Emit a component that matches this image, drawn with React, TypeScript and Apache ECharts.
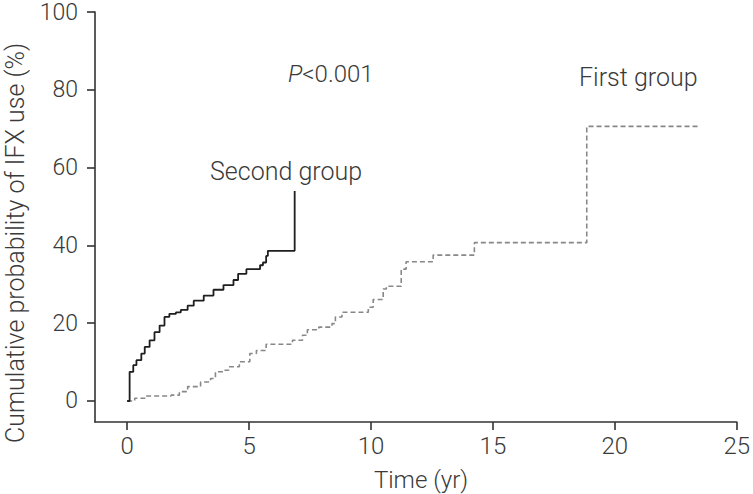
import React, { useEffect, useRef } from "react";
import * as echarts from "echarts";

const xTicks = [0, 5, 10, 15, 20, 25];
const yTicks = [0, 20, 40, 60, 80, 100];

// Second group (solid): [time (yr), cumulative probability (%)]
const secondGroup: [number, number][] = [
  [0, 0], [0.1, 7.5], [0.25, 9.2], [0.38, 10.5], [0.58, 12.2], [0.72, 13.9],
  [0.92, 15.6], [1.12, 17.7], [1.33, 19.4], [1.53, 21.6], [1.73, 22.4],
  [2.0, 22.8], [2.2, 23.4], [2.48, 24.5], [2.73, 25.8], [3.14, 27.1],
  [3.54, 28.6], [3.95, 29.8], [4.36, 31.1], [4.55, 32.7], [4.89, 33.9],
  [5.45, 34.9], [5.57, 35.6], [5.7, 37.3], [5.77, 38.6], [6.87, 54],
];

// First group (dashed)
const firstGroup: [number, number][] = [
  [0, 0], [0.31, 0.7], [0.72, 1.3], [1.8, 1.5], [2.14, 2.4], [2.48, 3.7],
  [3.01, 4.9], [3.42, 5.8], [3.62, 7.5], [3.96, 7.9], [4.16, 8.8],
  [4.6, 10.1], [5.03, 12.2], [5.3, 13.0], [5.7, 14.6], [6.78, 15.6],
  [7.19, 16.9], [7.39, 18.3], [7.86, 19.0], [8.4, 19.9], [8.54, 21.6],
  [8.81, 22.8], [9.89, 24.1], [10.09, 26.1], [10.5, 28.8], [10.63, 29.5],
  [11.24, 33.9], [11.44, 35.8], [12.55, 37.5], [14.24, 40.7],
  [18.85, 70.6], [23.5, 70.6],
];

const FONT = "Roboto";
const TXT = "#3a3a3a";
const AX = "#333333";

export default function App() {
  const ref = useRef<HTMLDivElement>(null);
  useEffect(() => {
    if (!ref.current) return;
    const chart = echarts.init(ref.current, null, { renderer: "svg" });
    chart.setOption({
      animation: false,
      backgroundColor: "#ffffff",
      grid: { left: 95, right: 8, top: 12, bottom: 72 },
      xAxis: {
        type: "value",
        min: -1.32,
        max: 25,
        splitLine: { show: false },
        axisLine: { show: true, onZero: false, lineStyle: { color: AX, width: 1.6 } },
        axisTick: { show: true, length: 8, customValues: xTicks, lineStyle: { color: AX, width: 1.6 } },
        axisLabel: {
          customValues: xTicks,
          margin: 15,
          color: TXT,
          fontFamily: FONT,
          fontWeight: 300,
          fontSize: 24,
          lineHeight: 18,
        },
      },
      yAxis: {
        type: "value",
        min: -5.4,
        max: 100,
        splitLine: { show: false },
        axisLine: { show: true, onZero: false, lineStyle: { color: AX, width: 1.6 } },
        axisTick: { show: true, length: 8, customValues: yTicks, lineStyle: { color: AX, width: 1.6 } },
        axisLabel: {
          customValues: yTicks,
          margin: 17,
          color: TXT,
          fontFamily: FONT,
          fontWeight: 300,
          fontSize: 23,
          lineHeight: 18,
        },
      },
      series: [
        {
          name: "First group",
          type: "line",
          step: "end",
          data: firstGroup,
          showSymbol: false,
          symbol: "none",
          lineStyle: { color: "#888888", width: 1.6, type: [5, 3] },
        },
        {
          name: "Second group",
          type: "line",
          step: "end",
          data: secondGroup,
          showSymbol: false,
          symbol: "none",
          lineStyle: { color: "#1e1e1e", width: 1.8 },
        },
      ],
      graphic: [
        {
          type: "text",
          x: 15,
          y: 243,
          rotation: Math.PI / 2,
          style: {
            text: "Cumulative probability of IFX use (%)",
            fill: TXT,
            font: `300 25px ${FONT}`,
            lineHeight: 24,
            align: "center",
            verticalAlign: "middle",
          },
        },
        {
          type: "text",
          x: 421,
          y: 480,
          style: {
            text: "Time (yr)",
            fill: TXT,
            font: `300 24px ${FONT}`,
            align: "center",
            verticalAlign: "middle",
          },
        },
        {
          type: "text",
          x: 288,
          y: 74,
          style: {
            text: "{i|P}<0.001",
            fill: TXT,
            font: `300 24px ${FONT}`,
            align: "left",
            verticalAlign: "middle",
            rich: {
              i: { fontStyle: "italic", fontFamily: FONT, fontWeight: 300, fontSize: 24, fill: TXT },
            },
          },
        },
        {
          type: "text",
          x: 210,
          y: 171,
          style: {
            text: "Second group",
            fill: TXT,
            font: `300 25px ${FONT}`,
            align: "left",
            verticalAlign: "middle",
          },
        },
        {
          type: "text",
          x: 579,
          y: 77,
          style: {
            text: "First group",
            fill: TXT,
            font: `300 25px ${FONT}`,
            align: "left",
            verticalAlign: "middle",
          },
        },
      ],
    });
    return () => chart.dispose();
  }, []);
  return <div ref={ref} style={{ width: 753, height: 494, position: "absolute", left: 0, top: 0 }} />;
}
